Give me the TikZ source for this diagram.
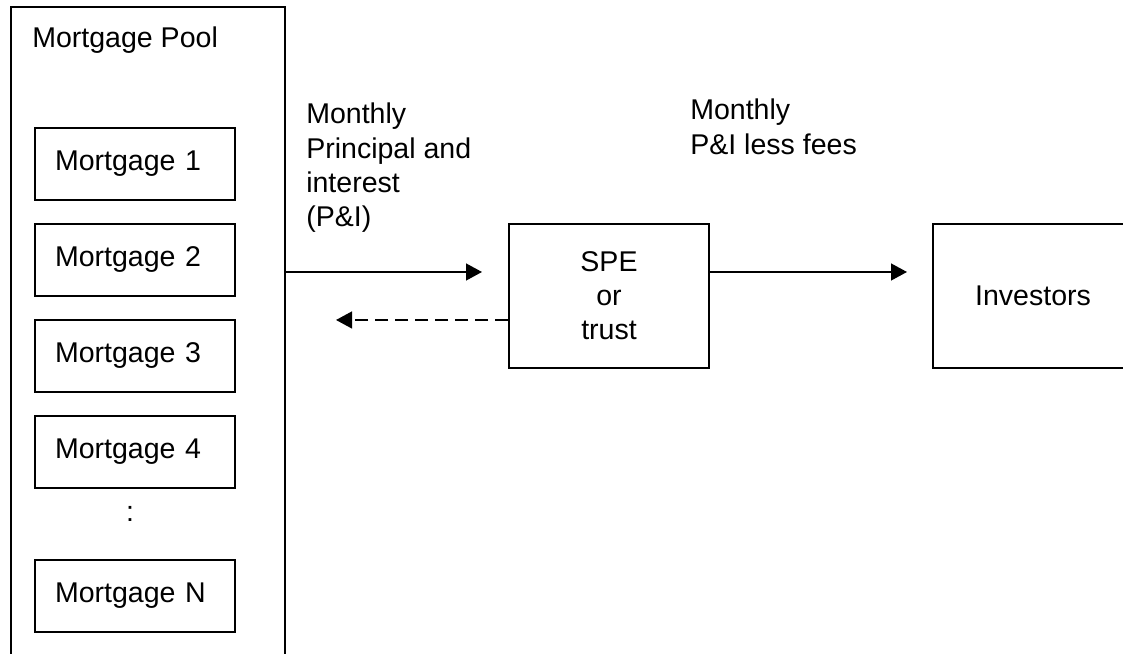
\documentclass[tikz,border=0pt]{standalone}
\usepackage{fontspec}
\setmainfont{Liberation Sans}
\usetikzlibrary{arrows.meta,calc,positioning}
\tikzset{>={Triangle[length=0.4cm,width=0.42cm]}}
\tikzset{
  box/.style={draw,line width=1.4pt,inner sep=0pt},
  mbox/.style={box,minimum width=5cm,minimum height=1.8cm,
    text width=4cm,inner xsep=0.5cm,align=left},
  flow/.style={->,line width=1.4pt},
  lbl/.style={anchor=north west,inner sep=0pt,align=left}
}

\begin{document}
\begin{tikzpicture}[font=\fontsize{20.3}{24.3}\selectfont]
  \useasboundingbox (0,0) rectangle (28.075,16.35);

  % Pool of loans (open at the bottom)
  \draw[line width=1.4pt]
    (0.2675,-0.3) -- (0.2675,16.175) -- (7.125,16.175) -- (7.125,-0.3);
  \coordinate (poolr) at (7.125,9.55);
  \node[anchor=base west,inner sep=0pt] (pooltitle) at (0.8,15.15)
    {Mortgage Pool};

  \node[mbox] (m1) at (3.375,12.25) {Mortgage 1};
  \node[mbox] (m2) at (3.375,9.85)  {Mortgage 2};
  \node[mbox] (m3) at (3.375,7.45)  {Mortgage 3};
  \node[mbox] (m4) at (3.375,5.05)  {Mortgage 4};
  \node (dots) at (3.25,3.5) {:};
  \node[mbox] (mn) at (3.375,1.45)  {Mortgage N};

  % Vehicle and investors
  \node[box,minimum width=5cm,minimum height=3.6cm,align=center]
    (spe) at (15.225,8.95) {SPE\\or\\trust};
  \node[box,minimum width=5cm,minimum height=3.6cm]
    (inv) at (25.825,8.95) {Investors};

  % Cash flows
  \coordinate (speto) at ($(spe.west)+(-0.65,0.6)$);
  \coordinate (poolto) at (8.4,8.35);
  \coordinate (invto) at ($(inv.west)+(-0.625,0.6)$);

  \draw[flow] (poolr) -- (speto);
  \draw[flow,dash pattern=on 0.33cm off 0.17cm]
    (spe.west |- poolto) -- (poolto);
  \draw[flow] (spe.east |- invto) -- (invto);

  \node[lbl] (pilbl) at (7.65,13.775)
    {Monthly\\Principal and\\interest\\(P\&I)};
  \node[lbl] (feelbl) at (17.25,13.875)
    {Monthly\\P\&I less fees};

\end{tikzpicture}
\end{document}
